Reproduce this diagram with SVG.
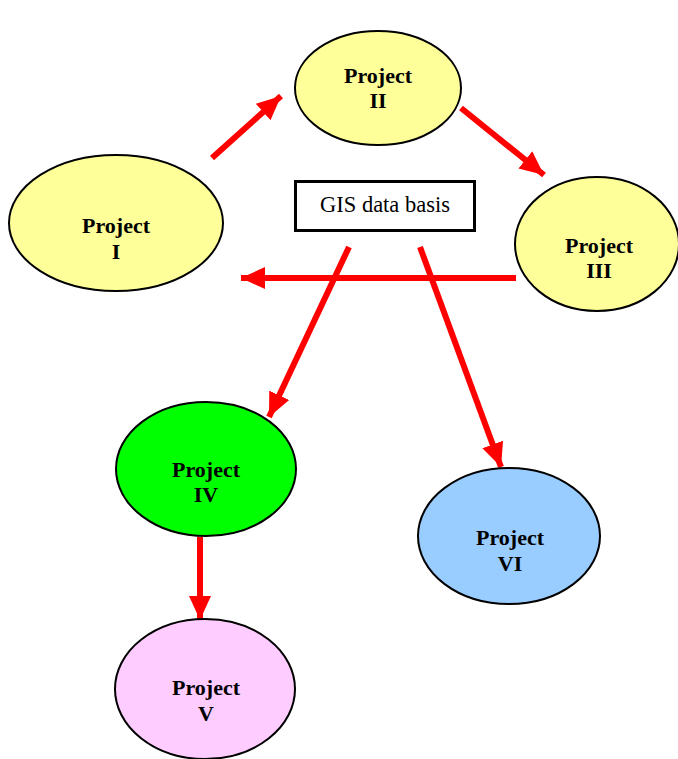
<svg xmlns="http://www.w3.org/2000/svg" width="678" height="759" viewBox="0 0 678 759">
<style>
.n{stroke:#000;stroke-width:2}
.t{font-family:"Liberation Serif",serif;font-weight:bold;font-size:22px;text-anchor:middle;fill:#000}
.c{stroke:#ff0000;stroke-width:6;fill:none;marker-end:url(#ah)}
</style>
<defs>
<marker id="ah" markerUnits="userSpaceOnUse" markerWidth="26" markerHeight="26" viewBox="0 0 26 26" refX="24" refY="13" orient="auto">
<path d="M0,2 L24,13 L0,24 Z" fill="#ff0000"/>
</marker>
</defs>
<rect width="678" height="759" fill="#fff"/>
<g id="connectors">
<line class="c" x1="212" y1="158" x2="281" y2="96"/>
<line class="c" x1="461" y1="108" x2="544" y2="175"/>
<line class="c" x1="516" y1="278" x2="241" y2="278"/>
<line class="c" x1="349" y1="247" x2="269" y2="417"/>
<line class="c" x1="420" y1="247" x2="501" y2="467"/>
<line class="c" x1="200" y1="537" x2="200" y2="620"/>
</g>
<g id="gis">
<rect x="295.5" y="181.5" width="179" height="49" fill="#fff" stroke="#000" stroke-width="3"/>
<text x="385" y="212" font-family="Liberation Serif,serif" font-size="22.5" text-anchor="middle">GIS data basis</text>
</g>
<g id="p2">
<ellipse class="n" cx="378" cy="88" rx="83" ry="57" fill="#ffff99"/>
<text class="t" x="378" y="83">Project</text><text class="t" x="378" y="108">II</text>
</g>
<g id="p1">
<ellipse class="n" cx="116" cy="223" rx="107" ry="68" fill="#ffff99"/>
<text class="t" x="116" y="233">Project</text><text class="t" x="116" y="259">I</text>
</g>
<g id="p3">
<ellipse class="n" cx="597" cy="244" rx="82" ry="67" fill="#ffff99"/>
<text class="t" x="599" y="253">Project</text><text class="t" x="599" y="278">III</text>
</g>
<g id="p4">
<ellipse class="n" cx="206" cy="469" rx="90" ry="67" fill="#00ff00"/>
<text class="t" x="206" y="477">Project</text><text class="t" x="206" y="502">IV</text>
</g>
<g id="p6">
<ellipse class="n" cx="509" cy="536" rx="91" ry="68" fill="#99ccff"/>
<text class="t" x="510" y="545">Project</text><text class="t" x="510" y="571">VI</text>
</g>
<g id="p5">
<ellipse class="n" cx="205" cy="689" rx="90" ry="70" fill="#ffccff"/>
<text class="t" x="206" y="695">Project</text><text class="t" x="206" y="721">V</text>
</g>
</svg>
